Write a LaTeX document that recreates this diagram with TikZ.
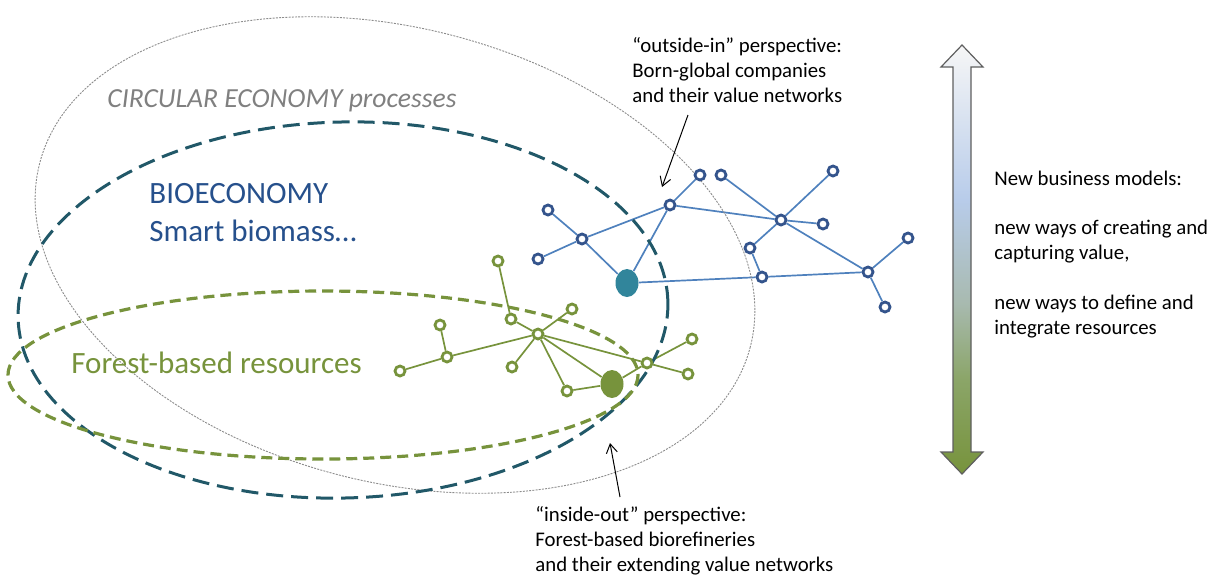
\documentclass[tikz,border=0pt]{standalone}
\usepackage{fontspec}
\setmainfont{Carlito}
\usetikzlibrary{shapes.geometric, arrows.meta}
\pgfdeclarelayer{bg}
\pgfsetlayers{bg,main}
\definecolor{tealdash}{RGB}{33,88,104}
\definecolor{vgreen}{RGB}{119,147,60}
\definecolor{nodeblue}{RGB}{52,84,140}
\definecolor{lineblue}{RGB}{79,129,189}
\definecolor{blobteal}{RGB}{49,133,155}
\definecolor{bioblue}{RGB}{38,80,140}
\definecolor{greytext}{RGB}{128,128,128}
\definecolor{arrowgray}{RGB}{95,95,95}
\definecolor{topwhite}{RGB}{246,246,246}
\definecolor{lightblue}{RGB}{184,204,234}
\definecolor{midgreen}{RGB}{168,186,176}
\definecolor{lowgreen}{RGB}{139,165,104}
\pgfdeclareverticalshading{bmarrow}{100bp}{color(0bp)=(vgreen); color(25bp)=(vgreen);
  color(36bp)=(lowgreen); color(45bp)=(midgreen); color(57bp)=(lightblue);
  color(75bp)=(topwhite); color(100bp)=(topwhite)}
\tikzset{
  bnode/.style={circle, draw=nodeblue, fill=white, line width=1.4pt, minimum size=5pt, inner sep=0pt},
  gnode/.style={bnode, draw=vgreen},
  bline/.style={draw=lineblue, line width=0.85pt},
  gline/.style={draw=vgreen, line width=0.85pt},
  core/.style={ellipse, minimum width=11.5pt, minimum height=14pt, inner sep=0pt},
  note/.style={font=\fontsize{10.4}{12.4}\selectfont, align=left, anchor=base west, inner sep=0pt},
  big/.style={font=\fontsize{15.5}{19}\selectfont, align=left, anchor=base west, inner sep=0pt}
}

\begin{document}
\begin{tikzpicture}[x=0.5pt, y=-0.5pt, >={Straight Barb[length=4.5pt, width=5.5pt]}]
        \useasboundingbox (0,0) rectangle (1214,575);
        \draw[gray!90, line width=0.45pt, dash pattern=on 1pt off 0.6pt, rotate around={-14.5:(395,255)}]
          (395,255) ellipse [x radius=367, y radius=227];
        \draw[tealdash, line width=1.5pt, dash pattern=on 8.5pt off 4pt, rotate around={1.5:(343,310)}]
          (343,310) ellipse [x radius=325, y radius=188];
        \draw[vgreen, line width=1.6pt, dash pattern=on 5.5pt off 3pt]
          (323,375) ellipse [x radius=315, y radius=84];

        \foreach \n/\x/\y in {o1/548/210, o2/582/239, o3/538/259, o4/670/205, o5/700/175,
            o6/721/175, o7/833/171, o8/781/220, o9/823/224, o10/750/248, o11/762/277,
            o12/868/272, o13/908/238, o14/885/307}
          \node[bnode] (\n) at (\x,\y) {};
        \node[core, fill=blobteal] (ocore) at (627,283) {};
        \foreach \n/\x/\y in {g1/498/261, g2/511/319, g3/572/309, g4/440/325, g5/538/334,
            g6/447/357, g7/400/371, g8/512/367, g9/567/391, g10/647/363, g11/692/339,
            g12/688/374}
          \node[gnode] (\n) at (\x,\y) {};
        \node[core, fill=vgreen] (gcore) at (612,384) {};

        \begin{pgfonlayer}{bg}
          \foreach \a/\b in {o1/o2, o3/o2, o2/ocore, o2/o4, ocore/o4, o4/o5, o4/o8, o6/o8,
              o7/o8, o8/o9, o8/o12, o8/o10, o10/o11, ocore/o11, o11/o12, o12/o13, o12/o14}
            \draw[bline] (\a) -- (\b);
          \foreach \a/\b in {g1/g2, g2/g5, g3/g5, g4/g6, g7/g6, g6/g5, g8/g5, g5/g9,
              g9/gcore, g5/gcore, g5/g10, g10/g11, g10/g12, gcore/g10}
            \draw[gline] (\a) -- (\b);
        \end{pgfonlayer}

        \node[font=\fontsize{13.8}{15}\selectfont\itshape, text=greytext, anchor=base west, inner sep=0pt]
          (circ) at (107,107) {CIRCULAR ECONOMY processes};
        \node[big, text=bioblue] (bio) at (149,241) {BIOECONOMY\\Smart biomass…};
        \node[big, text=vgreen] (forest) at (71,373) {Forest-based resources};
        \node[note] (outin) at (632,102) {“outside-in” perspective:\\Born-global companies\\and their value networks};
        \node[note] (inout) at (535,571) {“inside-out” perspective:\\Forest-based biorefineries\\and their extending value networks};
        \node[note] (bm) at (994,334) {New business models:\\[12.4pt]new ways of creating and\\capturing value,\\[12.4pt]new ways to define and\\integrate resources};

        \coordinate (outtail) at (688,115);
        \coordinate (outtip) at (662,187);
        \coordinate (intail) at (620,497);
        \coordinate (intip) at (610,443);
        \draw[->, line width=0.5pt] (outtail) -- (outtip);
        \draw[->, line width=0.5pt] (intail) -- (intip);

        \shade[shading=bmarrow, draw=arrowgray, line width=0.6pt]
          (962,45) -- (983,67) -- (971,67) -- (971,452) -- (983,452) -- (962,474)
          -- (941,452) -- (953,452) -- (953,67) -- (941,67) -- cycle;
      \end{tikzpicture}
\end{document}
